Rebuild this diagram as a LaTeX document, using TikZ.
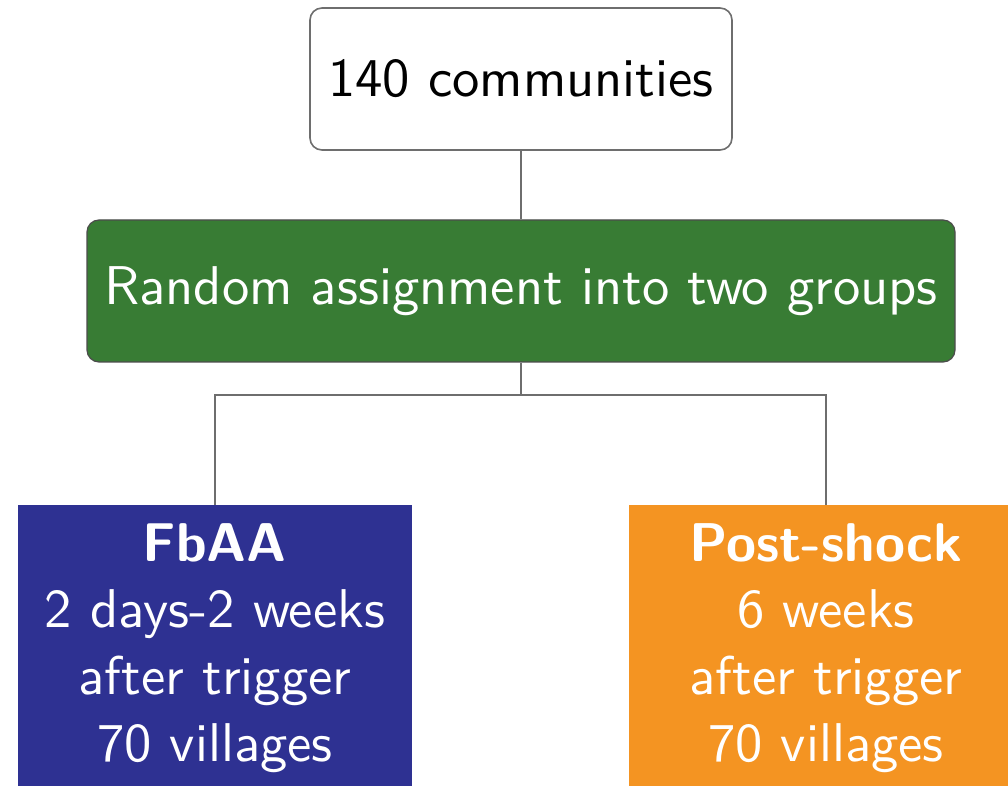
\documentclass[tikz,border=0pt]{standalone}
\usepackage{fontspec}
\setsansfont{lmsans10-regular.otf}[BoldFont=lmsans10-bold.otf]
\begin{document}
\definecolor{boxgreen}{RGB}{56,124,52}
\definecolor{boxblue}{RGB}{46,49,146}
\definecolor{boxorange}{RGB}{244,148,34}
\definecolor{linegray}{RGB}{110,110,110}
\begin{tikzpicture}[x=0.5pt,y=-0.5pt,
  every node/.style={font=\sffamily\fontsize{27.3}{33.3}\selectfont},
  topbox/.style={draw=linegray, line width=0.8pt, fill=white, rounded corners=6pt,
    minimum width=211pt, minimum height=71pt, inner sep=0pt},
  greenbox/.style={draw=black!70, line width=0.6pt, fill=boxgreen, text=white, rounded corners=6pt,
    minimum width=434pt, minimum height=71pt, inner sep=0pt},
  groupbox/.style={text=white, minimum width=197pt, text width=190pt, align=center,
    anchor=north, inner xsep=3.5pt, inner ysep=9pt},
  conn/.style={draw=linegray, line width=0.8pt}
]
\useasboundingbox (0,0) rectangle (1008,786);
\clip (0,0) rectangle (1008,786);
\node[topbox] (top) at (521,79) {140 communities};
\node[greenbox] (rand) at (521,291) {Random assignment into two groups};
\node[groupbox, fill=boxblue] (fbaa) at (215,505) {\textbf{FbAA}\\2 days-2 weeks\\after trigger\\70 villages\\[20pt]};
\node[groupbox, fill=boxorange] (post) at (826,505) {\textbf{Post-shock}\\6 weeks\\after trigger\\70 villages\\[20pt]};
\coordinate (split) at (521,395);
\draw[conn] (top.south) -- (rand.north);
\draw[conn] (rand.south) -- (split);
\draw[conn] (split) -| (fbaa.north);
\draw[conn] (split) -| (post.north);
\end{tikzpicture}
\end{document}
